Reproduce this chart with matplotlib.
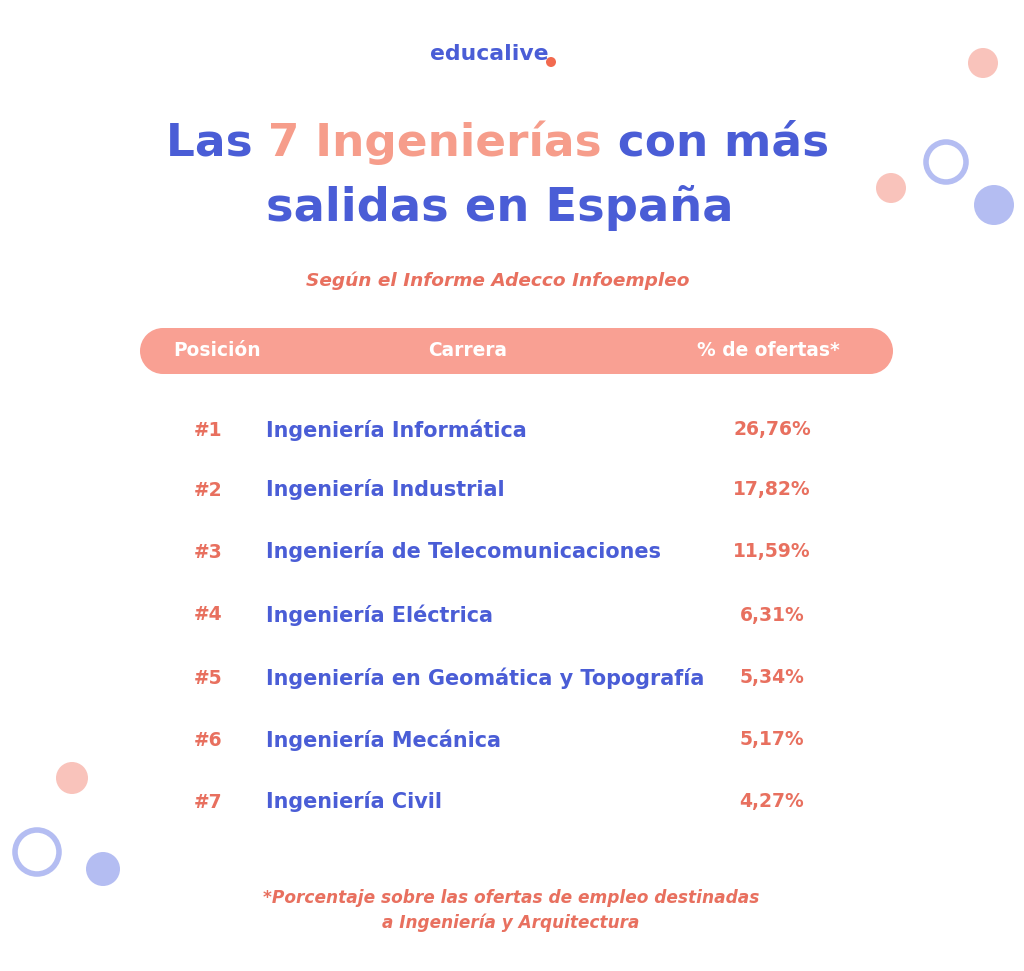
import matplotlib
matplotlib.use("Agg")
import matplotlib.pyplot as plt
from matplotlib.patches import Circle

# ---- data ----
ranks = ["#1", "#2", "#3", "#4", "#5", "#6", "#7"]
careers = ["Ingeniería Informática", "Ingeniería Industrial",
           "Ingeniería de Telecomunicaciones", "Ingeniería Eléctrica",
           "Ingeniería en Geomática y Topografía", "Ingeniería Mecánica",
           "Ingeniería Civil"]
percentages = ["26,76%", "17,82%", "11,59%", "6,31%", "5,34%", "5,17%", "4,27%"]
headers = ["Posición", "Carrera", "% de ofertas*"]
brand = "educalive"
title_line1 = [("Las ", "blue"), ("7 Ingenierías", "salmon"), (" con más", "blue")]
title_line2 = [("salidas en España", "blue")]
subtitle = "Según el Informe Adecco Infoempleo"
footnote = ["*Porcentaje sobre las ofertas de empleo destinadas",
            "a Ingeniería y Arquitectura"]

BLUE = "#4a5dd6"
SALMON_T = "#f69d8b"
RED = "#e8705f"
BAR = "#f9a093"
C_SAL = "#f9c3bb"
C_BLUE = "#b4bdf2"
FONT = "DejaVu Sans"

W, H = 1024, 971
fig = plt.figure(figsize=(W / 100, H / 100), dpi=100)
ax = fig.add_axes([0, 0, 1, 1])
ax.set_xlim(0, W)
ax.set_ylim(H, 0)
ax.axis("off")
fig.patch.set_facecolor("white")
renderer = fig.canvas.get_renderer()


def fit(t, width):
    bb = t.get_window_extent(renderer)
    t.set_fontsize(t.get_fontsize() * width / bb.width)
    return t.get_fontsize()


def segmented(parts, cx, y, size, width):
    colors = {"blue": BLUE, "salmon": SALMON_T}
    full = "".join(p for p, _ in parts)
    probe = ax.text(0, y, full, fontsize=size, fontweight="bold", family=FONT)
    fs = fit(probe, width)
    probe.remove()
    x = cx - width / 2
    prefix = ""
    for txt, c in parts:
        if prefix:
            pt = ax.text(0, y, prefix + "|", fontsize=fs, fontweight="bold", family=FONT)
            w1 = pt.get_window_extent(renderer).width
            pt.set_text("|")
            w2 = pt.get_window_extent(renderer).width
            pt.remove()
            xs = x + (w1 - w2)
        else:
            xs = x
        ax.text(xs, y, txt, fontsize=fs, fontweight="bold", family=FONT,
                color=colors[c], ha="left", va="center")
        prefix += txt


# logo
t = ax.text(489, 54, brand, fontsize=16, fontweight="bold", family=FONT,
            color=BLUE, ha="center", va="center")
fit(t, 118)
ax.add_patch(Circle((551, 62), 5, color="#f26a4f", lw=0))

# title
segmented(title_line1, 498, 143, 36, 664)
segmented(title_line2, 500, 208, 36, 468)

# subtitle
t = ax.text(498, 281, subtitle, fontsize=13, fontweight="bold", style="italic",
            family=FONT, color=RED, ha="center", va="center")
fit(t, 382)

# header bar (pill)
ax.add_patch(Circle((163, 351), 23, color=BAR, lw=0))
ax.add_patch(Circle((870, 351), 23, color=BAR, lw=0))
ax.add_patch(plt.Rectangle((163, 328), 707, 46, color=BAR, lw=0))
hx = [217, 468, 768]
hfs = None
for x, h in zip(hx, headers):
    t = ax.text(x, 351, h, fontsize=12, fontweight="bold", family=FONT,
                color="white", ha="center", va="center")
    if hfs is None:
        hfs = fit(t, 87)
    else:
        t.set_fontsize(hfs)

# rows
row_y = [430, 490, 552, 615, 678, 740, 802]
row_fs = None
pct_fs = None
for i, (r, c, p) in enumerate(zip(ranks, careers, percentages)):
    y = row_y[i]
    rt = ax.text(208, y, r, fontsize=14.5, fontweight="bold", family=FONT,
                 color=RED, ha="center", va="center")
    t = ax.text(266, y, c, fontsize=14.5, fontweight="bold", family=FONT,
                color=BLUE, ha="left", va="center")
    pt = ax.text(772, y, p, fontsize=14.5, fontweight="bold", family=FONT,
                 color=RED, ha="center", va="center")
    if i == 0:
        row_fs = fit(t, 262)
        pct_fs = fit(pt, 78)
    else:
        t.set_fontsize(row_fs)
        pt.set_fontsize(pct_fs)
    rt.set_fontsize(pct_fs)

# footnote
for y, line, w in zip([898, 923], footnote, [495, 258]):
    t = ax.text(511, y, line, fontsize=12, fontweight="bold", style="italic",
                family=FONT, color=RED, ha="center", va="center")
    fit(t, w)

# decorative circles
for (x, y, r) in [(983, 63, 15), (891, 188, 15), (72, 778, 16)]:
    ax.add_patch(Circle((x, y), r, color=C_SAL, lw=0))
for (x, y, r) in [(994, 205, 20), (103, 869, 17)]:
    ax.add_patch(Circle((x, y), r, color=C_BLUE, lw=0))
for (x, y, r) in [(946, 162, 20), (37, 852, 22)]:
    ax.add_patch(Circle((x, y), r, fc="none", ec=C_BLUE, lw=4))

fig.savefig("out.png", dpi=100, facecolor="white")
